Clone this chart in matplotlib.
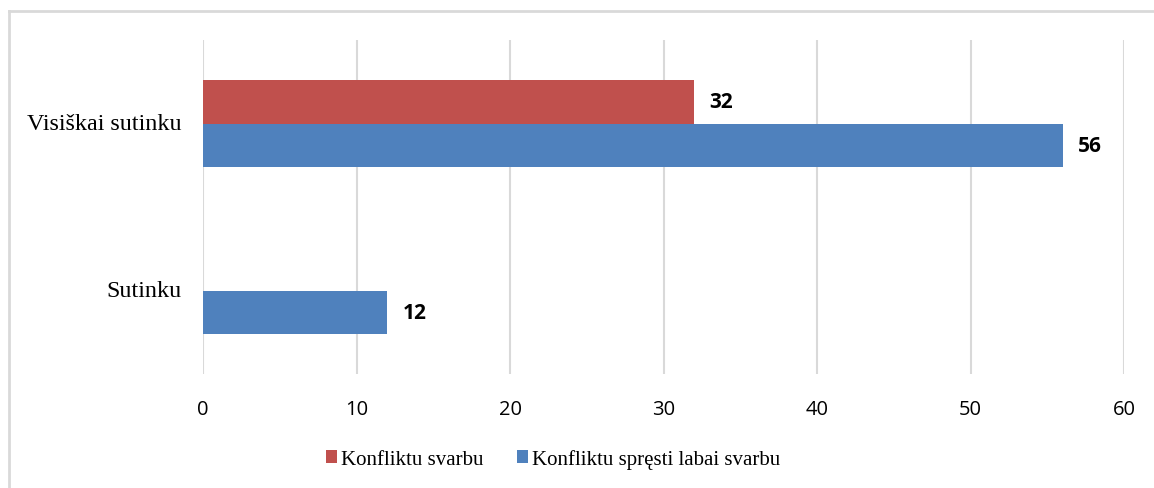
import matplotlib
matplotlib.use("Agg")
import matplotlib.pyplot as plt
from matplotlib.lines import Line2D
from matplotlib.patches import Patch
import numpy as np

categories = ["Sutinku", "Visiškai sutinku"]
series_names = ["Konfliktu svarbu", "Konfliktu spręsti labai svarbu"]
svarbu = [0, 32]
labai_svarbu = [12, 56]
xticks = [0, 10, 20, 30, 40, 50, 60]

red = "#C0504D"
blue = "#4F81BD"
grid_c = "#D9D9D9"

W, H = 1154, 489
fig = plt.figure(figsize=(W / 100, H / 100), dpi=100)
ax = fig.add_axes([203 / W, 1 - 375 / H, (1124 - 203) / W, (375 - 41) / H])

y = np.arange(len(categories))
h = 0.26
b_red = ax.barh(y + h / 2, svarbu, height=h, color=red, zorder=3)
b_blue = ax.barh(y - h / 2, labai_svarbu, height=h, color=blue, zorder=3)

num_font = ["Open Sans", "DejaVu Sans"]
for bars, vals in ((b_red, svarbu), (b_blue, labai_svarbu)):
    for rect, v in zip(bars, vals):
        if v == 0:
            continue
        ax.text(v + 1.0, rect.get_y() + rect.get_height() / 2, f"{v}",
                va="center", ha="left", fontsize=15, fontweight="bold",
                family=num_font, color="black")

ax.set_xlim(0, 60)
ax.set_ylim(-0.5, 1.5)
ax.set_xticks(xticks)
ax.set_xticklabels([str(t) for t in xticks], family=num_font, fontsize=14.5)
ax.xaxis.grid(True, color=grid_c, linewidth=1.5, zorder=0)
ax.tick_params(axis="x", length=0, pad=18)

ax.set_yticks(y)
ax.set_yticklabels([])
ax.tick_params(axis="y", length=0)
xoff = -21 / 921 * 60
ax.text(xoff, 1.0, categories[1], ha="right", va="center",
        family=["Liberation Serif"], fontsize=17.4)
ax.text(xoff, 0.0, categories[0], ha="right", va="center",
        family=["Liberation Serif"], fontsize=17.4)

for s in ax.spines.values():
    s.set_visible(False)

# outer chart border (left and top only, chart cropped)
fig.add_artist(Line2D([9 / W, 9 / W], [0, 1 - 12 / H], color=grid_c, linewidth=2,
                      transform=fig.transFigure))
fig.add_artist(Line2D([9 / W, 1], [1 - 12 / H, 1 - 12 / H], color=grid_c, linewidth=2,
                      transform=fig.transFigure))

handles = [Patch(facecolor=red), Patch(facecolor=blue)]
fig.legend(handles, series_names, loc="center", bbox_to_anchor=(553 / W, 1 - 460 / H),
           ncol=2, frameon=False, prop={"family": "Liberation Serif", "size": 15},
           handlelength=0.53, handleheight=0.53, handletextpad=0.2, columnspacing=1.6)

fig.savefig("out.png", dpi=100)
